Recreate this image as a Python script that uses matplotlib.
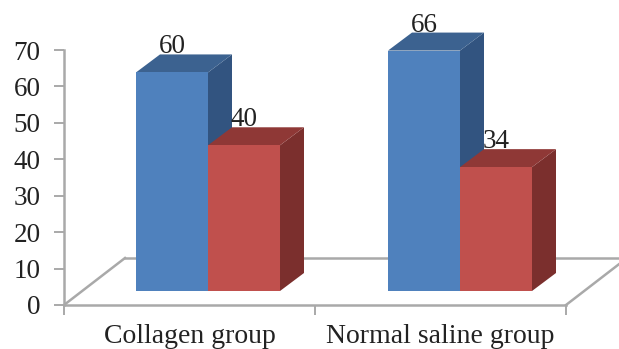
import matplotlib
matplotlib.use("Agg")
import matplotlib.pyplot as plt
from matplotlib.patches import Polygon

categories = ["Collagen group", "Normal saline group"]
collagen_vals = [60, 66]
red_vals = [40, 34]
yticks = [0, 10, 20, 30, 40, 50, 60, 70]

W, H = 619, 349
L, R, B, T = 64, 566, 305, 50  # axes box in pixels

plt.rcParams["font.family"] = ["Liberation Serif", "DejaVu Serif"]
fig = plt.figure(figsize=(W / 100, H / 100), dpi=100)
ax = fig.add_axes([L / W, 1 - B / H, (R - L) / W, (B - T) / H])
ax.set_xlim(0, 2)
ax.set_ylim(0, 70)
ax.patch.set_alpha(0)

px = 2 / (R - L)  # data units per pixel
py = 70 / (B - T)

gray = "#a9a9a9"
lw = 1.8
fs = 19.5
for s in ["top", "right"]:
    ax.spines[s].set_visible(False)
for s in ["left", "bottom"]:
    ax.spines[s].set_color(gray)
    ax.spines[s].set_linewidth(lw)
ax.set_yticks(yticks)
ax.set_xticks([0, 1, 2])
ax.set_xticklabels([])
ax.tick_params(axis="both", which="major", color=gray, width=1.4, length=7)
ax.tick_params(axis="y", labelsize=fs, labelcolor="#222222", pad=10)
ax.set_xticks([0.5, 1.5], minor=True)
ax.set_xticklabels(categories, minor=True, fontsize=fs + 0.5, color="#222222")
ax.tick_params(axis="x", which="minor", length=0, pad=14)

# floor of the 3d box
fdx, fdy = 61 * px, 47 * py
ax.plot([0, fdx], [0, fdy], color=gray, lw=lw, clip_on=False, zorder=1)
ax.plot([fdx, 2 + fdx], [fdy, fdy], color=gray, lw=lw, clip_on=False, zorder=1)
ax.plot([2, 2 + fdx], [0, fdy], color=gray, lw=lw, clip_on=False, zorder=1)

# bars
bw = 72 * px
bdx, bdy = 24 * px, 18 * py
base = 14 * py
starts = [(136 - L) * px, (388 - L) * px]


def bar3d(x, v, front, top, side):
    y0, y1 = base, base + v
    ax.add_patch(Polygon([(x + bw, y0), (x + bw + bdx, y0 + bdy), (x + bw + bdx, y1 + bdy), (x + bw, y1)],
                         fc=side, ec="none", clip_on=False, zorder=2))
    ax.add_patch(Polygon([(x, y1), (x + bdx, y1 + bdy), (x + bw + bdx, y1 + bdy), (x + bw, y1)],
                         fc=top, ec="none", clip_on=False, zorder=2))
    ax.add_patch(Polygon([(x, y0), (x + bw, y0), (x + bw, y1), (x, y1)],
                         fc=front, ec="none", clip_on=False, zorder=3))
    ax.text(x + bw / 2, y1 + 25.5 * py, str(v), ha="center", va="center", fontsize=fs,
            color="#222222", clip_on=False, zorder=4)


for i in range(2):
    bar3d(starts[i], collagen_vals[i], "#4f81bd", "#3c6290", "#325480")
    bar3d(starts[i] + bw, red_vals[i], "#c0504d", "#8f3836", "#7b2f2d")

fig.savefig("out.png", dpi=100)
